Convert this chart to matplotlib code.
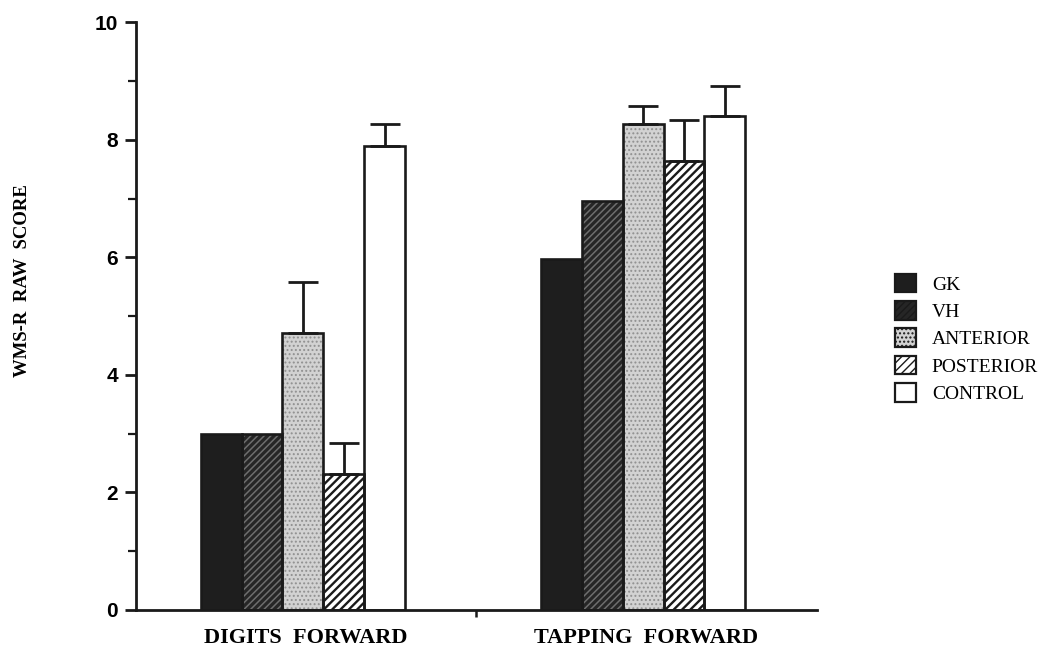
import matplotlib
matplotlib.use("Agg")
import matplotlib.pyplot as plt
from matplotlib.patches import Patch
import numpy as np

# Donnees
tests = ["DIGITS  FORWARD", "TAPPING  FORWARD"]
groupes = ["GK", "VH", "ANTERIOR", "POSTERIOR", "CONTROL"]
gk = [3.0, 5.97]
vh = [3.0, 6.95]
anterior = [4.71, 8.27]
posterior = [2.31, 7.63]
control = [7.9, 8.4]
err_gk = [0, 0]
err_vh = [0, 0]
err_anterior = [0.87, 0.30]
err_posterior = [0.53, 0.70]
err_control = [0.36, 0.52]

valeurs = [gk, vh, anterior, posterior, control]
erreurs = [err_gk, err_vh, err_anterior, err_posterior, err_control]

# Styles (remplissage, couleur des hachures, hachure, epaisseur des hachures)
styles = [
    ("#1e1e1e", "#1e1e1e", None, 1.0),
    ("#262626", "#6e6e6e", "/////", 1.1),
    ("#d2d2d2", "#909090", "....", 0.9),
    ("white", "#1a1a1a", "////", 1.7),
    ("white", "#1a1a1a", None, 1.0),
]

serif = ["Liberation Serif", "DejaVu Serif"]
sans = ["Liberation Sans", "DejaVu Sans"]

fig = plt.figure(figsize=(10.47, 6.53), dpi=100)
ax = fig.add_axes([0.130, 0.066, 0.650, 0.900])

largeur = 0.12
debut = 0.19
centres = np.arange(len(tests)) + 0.5

for i, (vals, errs) in enumerate(zip(valeurs, erreurs)):
    fc, hc, hatch, hlw = styles[i]
    x = np.arange(len(tests)) + debut + largeur * (i + 0.5)
    # remplissage + hachures
    with plt.rc_context({"hatch.linewidth": hlw}):
        ax.bar(x, vals, width=largeur, color=fc, edgecolor=hc, hatch=hatch,
               linewidth=0, zorder=2)
    # contour noir
    ax.bar(x, vals, width=largeur, fill=False, edgecolor="#1a1a1a",
           linewidth=1.9, zorder=3)
    errs = np.array(errs)
    masque = errs > 0
    if masque.any():
        ax.errorbar(x[masque], np.array(vals)[masque],
                    yerr=[np.zeros(masque.sum()), errs[masque]],
                    fmt="none", ecolor="#1a1a1a", elinewidth=2,
                    capsize=11, capthick=2, zorder=4)

ax.set_xlim(0, 2)
ax.set_ylim(0, 10)

ax.spines["top"].set_visible(False)
ax.spines["right"].set_visible(False)
for cote in ["left", "bottom"]:
    ax.spines[cote].set_linewidth(2)
    ax.spines[cote].set_color("#1a1a1a")

ax.set_yticks(np.arange(0, 11, 2))
ax.set_yticks(np.arange(1, 10, 2), minor=True)
ax.tick_params(axis="y", which="major", length=8, width=2, direction="out",
               pad=5, color="#1a1a1a")
ax.tick_params(axis="y", which="minor", length=6, width=1.6, direction="out",
               color="#1a1a1a")
for lab in ax.get_yticklabels():
    lab.set_fontfamily(sans)
    lab.set_fontweight("bold")
    lab.set_fontsize(15)

ax.set_xticks(centres)
ax.set_xticklabels(tests, fontfamily=serif, fontweight="bold", fontsize=16)
ax.set_xticks([1], minor=True)
ax.tick_params(axis="x", which="major", length=0, pad=13)
ax.tick_params(axis="x", which="minor", length=5, width=1.8, color="#1a1a1a")

ax.set_ylabel("WMS-R  RAW  SCORE", fontfamily=serif, fontweight="bold",
              fontsize=13.5)
ax.yaxis.set_label_coords(-0.154, 0.56)

poignees = []
for fc, hc, h, hlw in styles:
    with plt.rc_context({"hatch.linewidth": max(hlw, 1.4)}):
        poignees.append(Patch(facecolor=fc, edgecolor="#1a1a1a", hatch=h,
                              linewidth=1.6))
leg = fig.legend(poignees, groupes, loc="center left",
                 bbox_to_anchor=(0.838, 0.482), frameon=False,
                 handlelength=1.1, handleheight=1.1, handletextpad=0.8,
                 labelspacing=0.38, prop={"family": serif, "size": 14})

fig.savefig("out.png", dpi=100)
